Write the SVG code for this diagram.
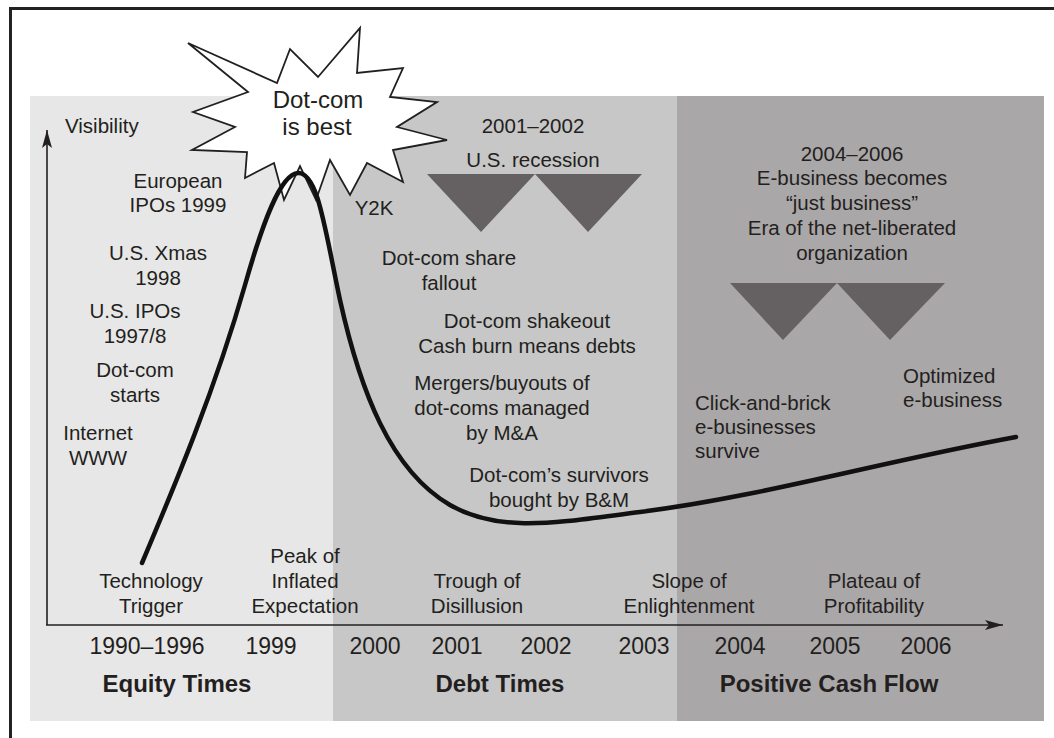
<svg xmlns="http://www.w3.org/2000/svg" width="1054" height="738" viewBox="0 0 1054 738">
<style>
text{font-family:"Liberation Sans",Arial,Helvetica,sans-serif;fill:#231f20;font-size:20.5px}
.c{text-anchor:middle}
.yr{font-size:23px;text-anchor:middle}
.era{font-size:24px;font-weight:bold;text-anchor:middle}
.axis{stroke:#231f20;stroke-width:1.6;fill:none}
.curve{stroke:#111;stroke-width:4.5;fill:none;stroke-linecap:round}
.tri{fill:#656163}
</style>
<defs>
<marker id="arr" markerUnits="userSpaceOnUse" markerWidth="20" markerHeight="12" refX="18" refY="5" orient="auto">
<path d="M0,0 L18,5 L0,10 L4,5 Z" fill="#231f20"/>
</marker>
</defs>
<rect x="0" y="0" width="1054" height="738" fill="#ffffff"/>
<rect x="10.5" y="8.5" width="1100" height="800" fill="#ffffff" stroke="#222" stroke-width="3"/>
<g id="panels">
<rect x="30" y="96" width="303" height="625" fill="#e7e7e7"/>
<rect x="333" y="96" width="344" height="625" fill="#c7c7c7"/>
<rect x="677" y="96" width="367" height="625" fill="#aaa7a8"/>
</g>
<g id="recession-triangles">
<polygon class="tri" points="427,174 535,174 481,232"/>
<polygon class="tri" points="535,174 642,174 588,232"/>
<polygon class="tri" points="730,283 837,283 783,340"/>
<polygon class="tri" points="837,283 945,283 890,340"/>
</g>
<g id="star">
<polygon points="188,43 277,83 290,49 318,77 360,28 357,73 403,68 390,97 437,102 397,127 447,140 393,150 403,182 367,163 350,195 330,160 316,200 300,166 284,200 274,163 245,178 247,152 192,150 235,127 193,112 248,92" fill="#ffffff" stroke="#231f20" stroke-width="1.8" stroke-linejoin="miter"/>
<text class="c" x="318" y="108" style="font-size:24px">Dot-com</text>
<text class="c" x="317" y="135" style="font-size:24px">is best</text>
</g>
<g id="connectors">
<line class="axis" x1="47" y1="625" x2="47" y2="130" marker-end="url(#arr)"/>
<line class="axis" x1="46" y1="625" x2="1003" y2="625" marker-end="url(#arr)"/>
<path class="curve" d="M142,563 C175,485 215,390 245,285 C262,225 280,174 298,173 C318,172 325,230 340,300 C360,390 390,470 450,505 C500,534 560,522 640,512 C760,497 880,462 1016,437"/>
</g>
<g id="visibility"><text x="65" y="133">Visibility</text></g>
<g id="european-ipos"><text class="c" x="178" y="188">European</text><text class="c" x="178" y="212">IPOs 1999</text></g>
<g id="us-xmas"><text class="c" x="158" y="260">U.S. Xmas</text><text class="c" x="158" y="285">1998</text></g>
<g id="us-ipos"><text class="c" x="135" y="318">U.S. IPOs</text><text class="c" x="135" y="343">1997/8</text></g>
<g id="dotcom-starts"><text class="c" x="135" y="377">Dot-com</text><text class="c" x="135" y="402">starts</text></g>
<g id="internet"><text class="c" x="98" y="440">Internet</text><text class="c" x="98" y="465">WWW</text></g>
<g id="y2k"><text class="c" x="374" y="215">Y2K</text></g>
<g id="us-recession"><text class="c" x="533" y="133">2001–2002</text><text class="c" x="533" y="167">U.S. recession</text></g>
<g id="share-fallout"><text class="c" x="449" y="265">Dot-com share</text><text class="c" x="449" y="290">fallout</text></g>
<g id="shakeout"><text class="c" x="527" y="328">Dot-com shakeout</text><text class="c" x="527" y="353">Cash burn means debts</text></g>
<g id="mergers"><text class="c" x="502" y="390">Mergers/buyouts of</text><text class="c" x="502" y="415">dot-coms managed</text><text class="c" x="502" y="440">by M&amp;A</text></g>
<g id="survivors"><text class="c" x="559" y="482">Dot-com’s survivors</text><text class="c" x="559" y="507">bought by B&amp;M</text></g>
<g id="just-business"><text class="c" x="852" y="161">2004–2006</text><text class="c" x="852" y="185">E-business becomes</text><text class="c" x="852" y="210">“just business”</text><text class="c" x="852" y="235">Era of the net-liberated</text><text class="c" x="852" y="260">organization</text></g>
<g id="optimized"><text x="903" y="383">Optimized</text><text x="903" y="407">e-business</text></g>
<g id="click-and-brick"><text x="695" y="410">Click-and-brick</text><text x="695" y="434">e-businesses</text><text x="695" y="458">survive</text></g>
<g id="phase-trigger"><text class="c" x="151" y="588">Technology</text><text class="c" x="151" y="613">Trigger</text></g>
<g id="phase-peak"><text class="c" x="305" y="563">Peak of</text><text class="c" x="305" y="588">Inflated</text><text class="c" x="305" y="613">Expectation</text></g>
<g id="phase-trough"><text class="c" x="477" y="588">Trough of</text><text class="c" x="477" y="613">Disillusion</text></g>
<g id="phase-slope"><text class="c" x="689" y="588">Slope of</text><text class="c" x="689" y="613">Enlightenment</text></g>
<g id="phase-plateau"><text class="c" x="874" y="588">Plateau of</text><text class="c" x="874" y="613">Profitability</text></g>
<g id="years">
<text class="yr" x="147" y="654">1990–1996</text>
<text class="yr" x="271" y="654">1999</text>
<text class="yr" x="375" y="654">2000</text>
<text class="yr" x="457" y="654">2001</text>
<text class="yr" x="546" y="654">2002</text>
<text class="yr" x="644" y="654">2003</text>
<text class="yr" x="740" y="654">2004</text>
<text class="yr" x="835" y="654">2005</text>
<text class="yr" x="926" y="654">2006</text>
</g>
<g id="eras">
<text class="era" x="177" y="692">Equity Times</text>
<text class="era" x="500" y="692">Debt Times</text>
<text class="era" x="829" y="692">Positive Cash Flow</text>
</g>
</svg>
